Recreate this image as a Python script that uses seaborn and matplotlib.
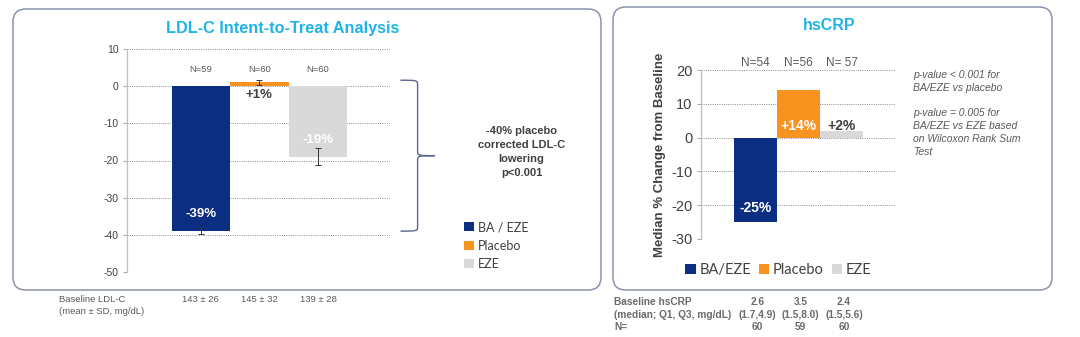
import matplotlib
matplotlib.use("Agg")
import matplotlib.pyplot as plt
import matplotlib.transforms as mtransforms
from matplotlib.patches import FancyBboxPatch, Patch, PathPatch
from matplotlib.path import Path
import seaborn as sns
import pandas as pd

# ---- LDL-C intent-to-treat data ----
ldl_groups = ["BA / EZE", "Placebo", "EZE"]
ldl_change = [-39, 1, -19]
ldl_err = [0.9, 0.6, 2.3]
ldl_n = ["N=59", "N=60", "N=60"]
ldl_labels = ["-39%", "+1%", "-19%"]
ldl_baseline = ["143 ± 26", "145 ± 32", "139 ± 28"]
ldl_ticks = [10, 0, -10, -20, -30, -40, -50]

# ---- hsCRP data ----
crp_groups = ["BA/EZE", "Placebo", "EZE"]
crp_change = [-25, 14, 2]
crp_n = ["N=54", "N=56", "N= 57"]
crp_labels = ["-25%", "+14%", "+2%"]
crp_median = ["2.6", "3.5", "2.4"]
crp_iqr = ["(1.7,4.9)", "(1.5,8.0)", "(1.5,5.6)"]
crp_count = ["60", "59", "60"]
crp_ticks = [20, 10, 0, -10, -20, -30]

colors = ["#0b2d82", "#f7931e", "#d9d9d9"]
label_colors = ["white", "#404040", "white"]
crp_label_colors = ["white", "white", "#404040"]
title_color = "#1db4e8"
text_gray = "#404040"
box_color = "#8b92ad"

sns.set_theme(style="white")
plt.rcParams["font.family"] = ["Liberation Sans", "DejaVu Sans"]

W, H = 1080, 337
fig = plt.figure(figsize=(W / 100, H / 100), dpi=100)
fig.patch.set_facecolor("white")


def px_axes(x0, y0, x1, y1):
    return fig.add_axes([x0 / W, 1 - y1 / H, (x1 - x0) / W, (y1 - y0) / H])


def rounded_box(x0, y0, x1, y1):
    box = FancyBboxPatch((x0 / 100, (H - y1) / 100), (x1 - x0) / 100, (y1 - y0) / 100,
                         boxstyle="round,pad=0,rounding_size=0.13",
                         transform=fig.dpi_scale_trans, facecolor="none",
                         edgecolor=box_color, linewidth=1.1, zorder=0)
    fig.patches.append(box)


def style_axes(ax, ticks, ylim, fs):
    ax.set_ylim(*ylim)
    ax.set_xlim(-1.26, 3.23)
    ax.set_yticks(ticks)
    ax.set_yticklabels([str(t) for t in ticks], fontsize=fs, color=text_gray)
    ax.set_xticks([])
    ax.set_xlabel("")
    for s in ["top", "right", "bottom"]:
        ax.spines[s].set_visible(False)
    ax.spines["left"].set_color("#bfbfbf")
    ax.spines["left"].set_linewidth(0.9)
    ax.tick_params(axis="y", length=3, width=0.6, color="#9a9a9a", pad=3, left=True)
    for t in ticks:
        ax.axhline(t, color="#8a8a8a", linestyle=(0, (1, 1.3)), linewidth=0.7, zorder=0)
    ax.set_facecolor("none")


rounded_box(13, 9, 601, 290)
rounded_box(613, 7, 1052, 290)

# ================= LDL-C panel =================
ax1 = px_axes(127, 49, 390, 272)
df1 = pd.DataFrame({"group": ldl_groups, "change": ldl_change})
sns.barplot(data=df1, x="group", y="change", hue="group", palette=colors,
            width=1.0, saturation=1, errorbar=None, legend=False, ax=ax1, zorder=2,
            linewidth=0, edgecolor="none")
style_axes(ax1, ldl_ticks, (-50, 10), 7.5)
ax1.set_ylabel("")
ax1.errorbar(range(3), ldl_change, yerr=ldl_err, fmt="none", ecolor="#333333",
             elinewidth=0.7, capsize=2, capthick=0.7, zorder=3)

for i, (v, lab) in enumerate(zip(ldl_change, ldl_labels)):
    y = v + 4.5 if v < -10 else v - 3.5
    ax1.text(i, y, lab, ha="center", va="center", fontsize=9.5, fontweight="bold",
             color=label_colors[i], zorder=4)
    ax1.text(i, 4.6, ldl_n[i], ha="center", va="center", fontsize=6.8, color="#595959")

fig.text(283 / W, 1 - 29 / H, "LDL-C Intent-to-Treat Analysis", ha="center", va="center",
         fontsize=11.7, fontweight="bold", color=title_color)

# brace from placebo to BA/EZE result
bt = mtransforms.blended_transform_factory(ax1.transAxes, ax1.transData)
y_top, y_bot = ldl_change[1] + 0.6, ldl_change[0]
y_mid = (y_top + y_bot) / 2
x0, xv, xt = 1.04, 1.105, 1.17
r = 1.4
verts = [(x0, y_top), (xv, y_top), (xv, y_top), (xv, y_top - r),
         (xv, y_mid + r),
         (xv, y_mid), (xv, y_mid), (xt, y_mid),
         (xv, y_mid), (xv, y_mid), (xv, y_mid - r),
         (xv, y_bot + r),
         (xv, y_bot), (xv, y_bot), (x0, y_bot)]
codes = [Path.MOVETO, Path.CURVE4, Path.CURVE4, Path.CURVE4, Path.LINETO,
         Path.CURVE4, Path.CURVE4, Path.CURVE4,
         Path.CURVE4, Path.CURVE4, Path.CURVE4, Path.LINETO,
         Path.CURVE4, Path.CURVE4, Path.CURVE4]
ax1.add_patch(PathPatch(Path(verts, codes), transform=bt, facecolor="none",
                        edgecolor="#5c6491", linewidth=1.0, clip_on=False))

ax1.text(1.50, -17.8, "-40% placebo\ncorrected LDL-C\nlowering\np<0.001", transform=bt,
         ha="center", va="center", fontsize=8, fontweight="bold", color=text_gray,
         linespacing=1.5)

leg1 = fig.legend(handles=[Patch(facecolor=c, edgecolor="none", label=g)
                           for c, g in zip(colors, ldl_groups)],
                  loc="upper left", bbox_to_anchor=(458 / W, 1 - 215 / H), frameon=False,
                  prop={"family": "Lato", "size": 9}, handlelength=0.75, handleheight=0.75,
                  handletextpad=0.35, labelspacing=0.5, borderpad=0, labelcolor=text_gray)

bx1 = mtransforms.blended_transform_factory(ax1.transData, fig.transFigure)
fig.text(59 / W, 1 - 300 / H, "Baseline LDL-C", ha="left", va="center", fontsize=6.8,
         color="#595959")
fig.text(59 / W, 1 - 311 / H, "(mean ± SD, mg/dL)", ha="left", va="center", fontsize=6.8,
         color="#595959")
for i, s in enumerate(ldl_baseline):
    ax1.text(i, 1 - 300 / H, s, transform=bx1, ha="center", va="center", fontsize=6.8,
             color="#595959")

# ================= hsCRP panel =================
ax2 = px_axes(701, 70, 895, 239)
df2 = pd.DataFrame({"group": crp_groups, "change": crp_change})
sns.barplot(data=df2, x="group", y="change", hue="group", palette=colors,
            width=1.0, saturation=1, errorbar=None, legend=False, ax=ax2, zorder=2,
            linewidth=0, edgecolor="none")
style_axes(ax2, crp_ticks, (-30, 20), 10.5)
ax2.set_ylabel("Median % Change from Baseline", fontsize=9.5, fontweight="bold",
               color=text_gray, labelpad=4)

for i, (v, lab) in enumerate(zip(crp_change, crp_labels)):
    y = v + 4.2 if v < 0 else 3.5
    ax2.text(i, y, lab, ha="center", va="center", fontsize=10, fontweight="bold",
             color=crp_label_colors[i], zorder=4)
    ax2.text(i, 22.2, crp_n[i], ha="center", va="center", fontsize=8.5, color="#595959",
             clip_on=False)

fig.text(829 / W, 1 - 26 / H, "hsCRP", ha="center", va="center", fontsize=11.5,
         fontweight="bold", color=title_color)

note = ("p-value < 0.001 for\nBA/EZE vs placebo\n\n"
        "p-value = 0.005 for\nBA/EZE vs EZE based\non Wilcoxon Rank Sum\nTest")
fig.text(913 / W, 1 - 70 / H, note, ha="left", va="top", fontsize=7.5, style="italic",
         color="#595959", linespacing=1.35)

leg2 = fig.legend(handles=[Patch(facecolor=c, edgecolor="none", label=g)
                           for c, g in zip(colors, crp_groups)],
                  loc="center left", bbox_to_anchor=(678 / W, 1 - 270 / H), frameon=False,
                  ncol=3, prop={"family": "Lato", "size": 10.5}, handlelength=0.7,
                  handleheight=0.7, handletextpad=0.25, columnspacing=0.55, borderpad=0,
                  labelcolor=text_gray)

bx2 = mtransforms.blended_transform_factory(ax2.transData, fig.transFigure)
for k, s in enumerate(["Baseline hsCRP", "(median; Q1, Q3, mg/dL)", "N="]):
    fig.text(614 / W, 1 - (302 + 12.5 * k) / H, s, ha="left", va="center", fontsize=7.3,
             fontweight="bold", color="#6b6b6b")
for i in range(3):
    for k, s in enumerate([crp_median[i], crp_iqr[i], crp_count[i]]):
        ax2.text(i + 0.05, 1 - (302 + 12.5 * k) / H, s, transform=bx2, ha="center",
                 va="center", fontsize=7.3, fontweight="bold", color="#6b6b6b")

fig.savefig("out.png", dpi=100, facecolor="white")
